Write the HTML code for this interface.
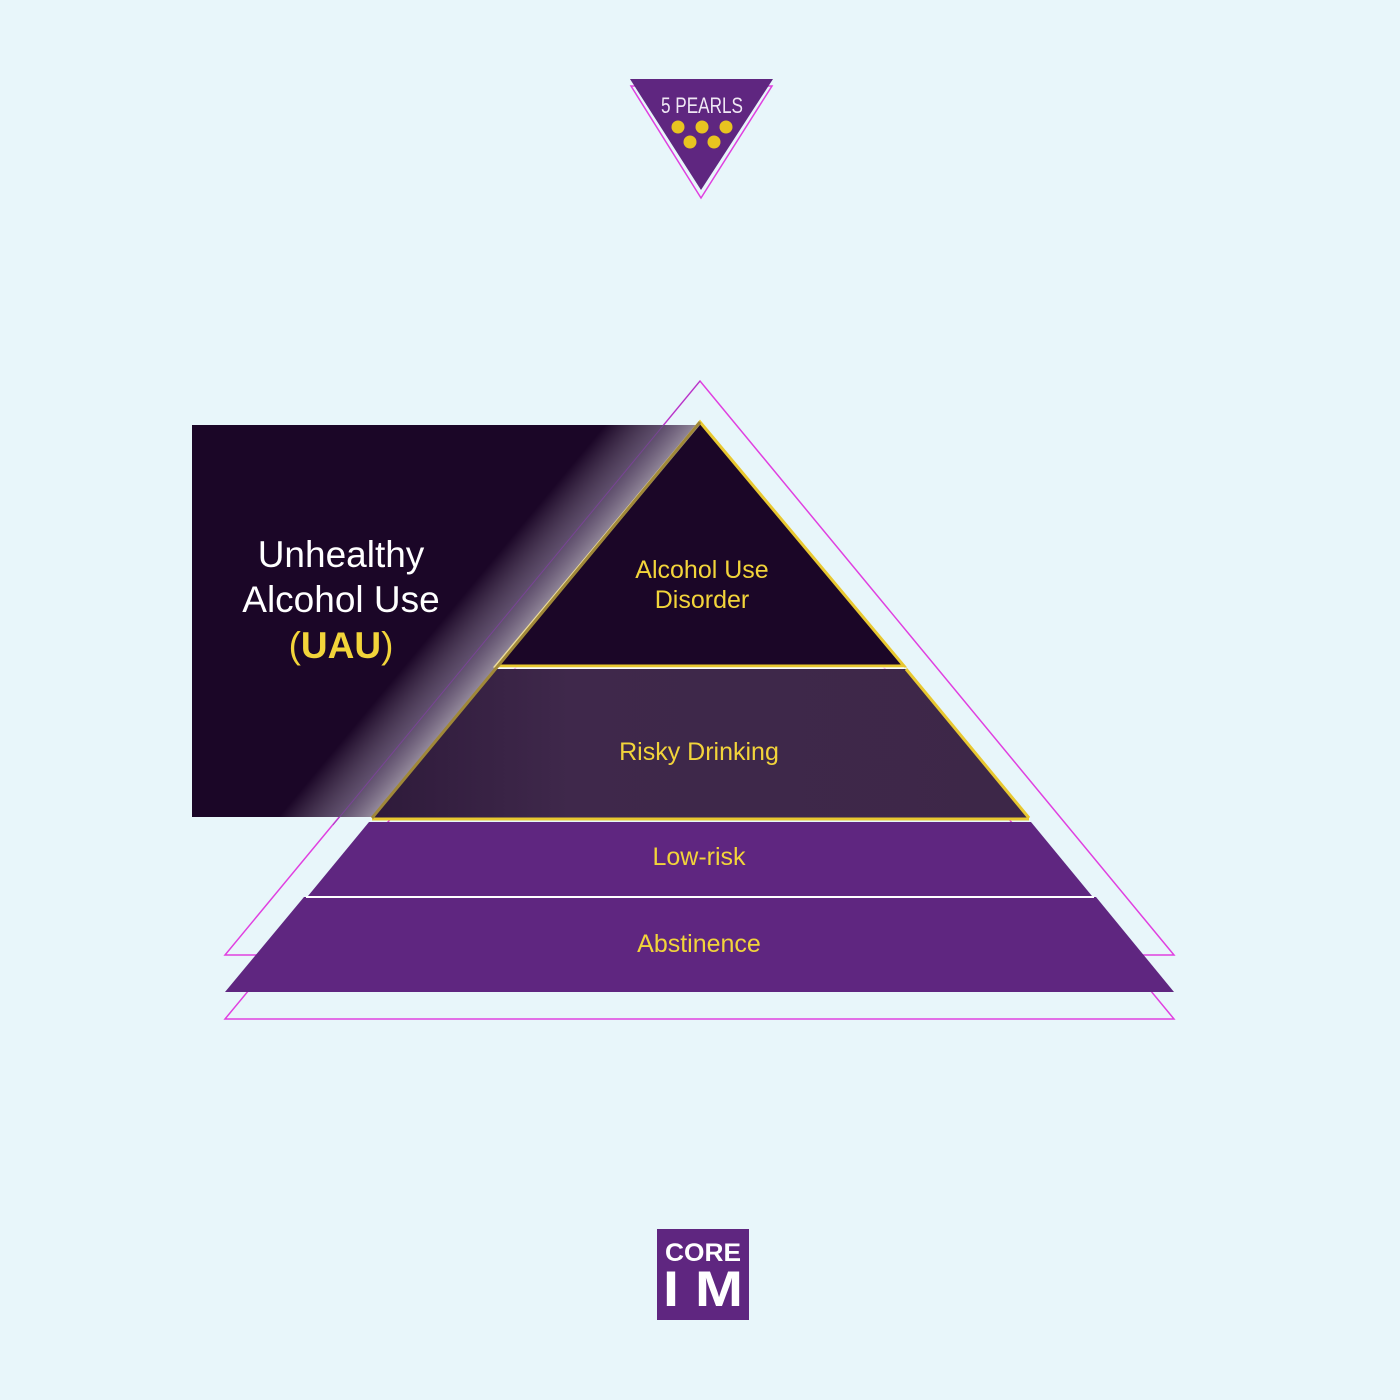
<!DOCTYPE html>
<html><head><meta charset="utf-8"><style>
html,body{margin:0;padding:0;background:#e8f6fa;}
svg{display:block;}
text{font-family:"Liberation Sans","DejaVu Sans",sans-serif;}
</style></head><body>
<svg width="1400" height="1400" viewBox="0 0 1400 1400" xmlns="http://www.w3.org/2000/svg">
<defs>
<linearGradient id="glow" gradientUnits="userSpaceOnUse" x1="540" y1="625" x2="480" y2="575">
<stop offset="0" stop-color="#ffffff" stop-opacity="0.6"/>
<stop offset="0.4" stop-color="#c8c0d8" stop-opacity="0.4"/>
<stop offset="1" stop-color="#ffffff" stop-opacity="0"/>
</linearGradient>
<linearGradient id="risky" x1="0" y1="0" x2="1" y2="0">
<stop offset="0" stop-color="#2e1a3a"/>
<stop offset="0.3" stop-color="#3f284b"/>
<stop offset="1" stop-color="#3d2748"/>
</linearGradient>
</defs>
<rect width="1400" height="1400" fill="#e8f6fa"/>

<polygon points="631,86 772,86 701,198" fill="none" stroke="#e040e0" stroke-width="1.5"/>
<polygon points="630,79 773,79 701,190" fill="#5f2680"/>
<text x="702" y="113" font-size="22" fill="#f0e8f4" text-anchor="middle" textLength="82" lengthAdjust="spacingAndGlyphs">5 PEARLS</text>
<g fill="#e8c420">
<circle cx="678" cy="127" r="6.5"/><circle cx="702" cy="127" r="6.5"/><circle cx="726" cy="127" r="6.5"/>
<circle cx="690" cy="142" r="6.5"/><circle cx="714" cy="142" r="6.5"/>
</g>

<polygon points="700,381 1174,955 225,955" fill="none" stroke="#e040e0" stroke-width="1.5"/>
<polygon points="700,445 1174,1019 225,1019" fill="none" stroke="#e040e0" stroke-width="1.5"/>

<polygon points="192,425 700,425 373,817 192,817" fill="#1b0627"/>

<polygon points="304,897 1096,897 1174,992 225,992" fill="#5f2680"/>
<polygon points="369,822 1031,822 1092,896 308,896" fill="#5f2680"/>
<line x1="306" y1="897" x2="1094" y2="897" stroke="#ffffff" stroke-width="2"/>
<polygon points="494,669 906,669 1029,818 372,818" fill="url(#risky)"/>
<line x1="372" y1="819" x2="1029" y2="819" stroke="#e8c830" stroke-width="3"/>
<line x1="906" y1="669" x2="1029" y2="818" stroke="#e8c830" stroke-width="3"/>
<polygon points="700,422 904,666 496,666" fill="#1b0627" stroke="#e8c830" stroke-width="3" stroke-linejoin="miter"/>
<line x1="496" y1="668" x2="904" y2="668" stroke="#ffffff" stroke-width="1.5" opacity="0.8"/>

<polygon points="192,425 700,425 373,817 192,817" fill="url(#glow)"/>
<line x1="700" y1="381" x2="333" y2="825" stroke="#8a3cb0" stroke-width="1" opacity="0.6"/>
<line x1="700" y1="422" x2="372" y2="818" stroke="#a08838" stroke-width="3"/>

<g font-size="25" fill="#f2d43a" text-anchor="middle">
<text x="702" y="578">Alcohol Use</text>
<text x="702" y="608">Disorder</text>
<text x="699" y="760">Risky Drinking</text>
<text x="699" y="865">Low-risk</text>
<text x="699" y="952">Abstinence</text>
</g>
<g font-size="37" fill="#ffffff" text-anchor="middle">
<text x="341" y="567">Unhealthy</text>
<text x="341" y="612">Alcohol Use</text>
<text x="341" y="658" fill="#f2d43a">(<tspan font-weight="bold">UAU</tspan>)</text>
</g>

<rect x="657" y="1229" width="92" height="91" fill="#5f2680"/>
<text x="703" y="1261" font-size="25" font-weight="bold" fill="#ffffff" text-anchor="middle" textLength="76" lengthAdjust="spacingAndGlyphs">CORE</text>
<text x="703" y="1306" font-size="50" font-weight="bold" fill="#ffffff" text-anchor="middle" textLength="80" lengthAdjust="spacingAndGlyphs">I M</text>
</svg>
</body></html>
